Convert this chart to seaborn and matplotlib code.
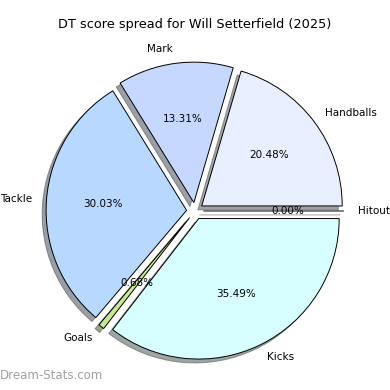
import matplotlib
matplotlib.use('Agg')
import matplotlib.pyplot as plt
import seaborn as sns

sns.set_style('white')
plt.rcParams['font.family'] = ['DejaVu Sans']
plt.rcParams['text.color'] = 'black'

# slice data, counter-clockwise from the right
categories = ['Hitout', 'Handballs', 'Mark', 'Tackle', 'Goals', 'Kicks']
shares = [0.00, 20.48, 13.31, 30.03, 0.68, 35.49]
slice_colours = ['#f0f0ff', '#e8f0ff', '#c6d8ff', '#b8d8ff', '#c8e890', '#d8ffff']

fig, ax = plt.subplots(figsize=(3.9, 3.9), dpi=100)
fig.subplots_adjust(left=0.08, right=0.92, top=0.87, bottom=0.05)

explode = [0.06] * len(shares)
wedges, texts, autotexts = ax.pie(shares, labels=categories, colors=slice_colours,
                                  explode=explode, startangle=0, shadow=True,
                                  autopct='%1.2f%%', counterclock=True,
                                  wedgeprops={'edgecolor': 'black', 'linewidth': 0.7},
                                  textprops={'fontsize': 7.5, 'color': 'black'})
ax.axis('equal')

# title sits above the pie, placed on the figure so it clears the Mark label
fig.suptitle('DT score spread for Will Setterfield (2025)', fontsize=9.3,
             x=0.5, y=0.936, va='center', color='black')

fig.text(0.0, 0.02, 'Dream-Stats.com', fontsize=8.5, color='#a0a0a0', ha='left', va='bottom')

plt.savefig('out.png', dpi=100)
